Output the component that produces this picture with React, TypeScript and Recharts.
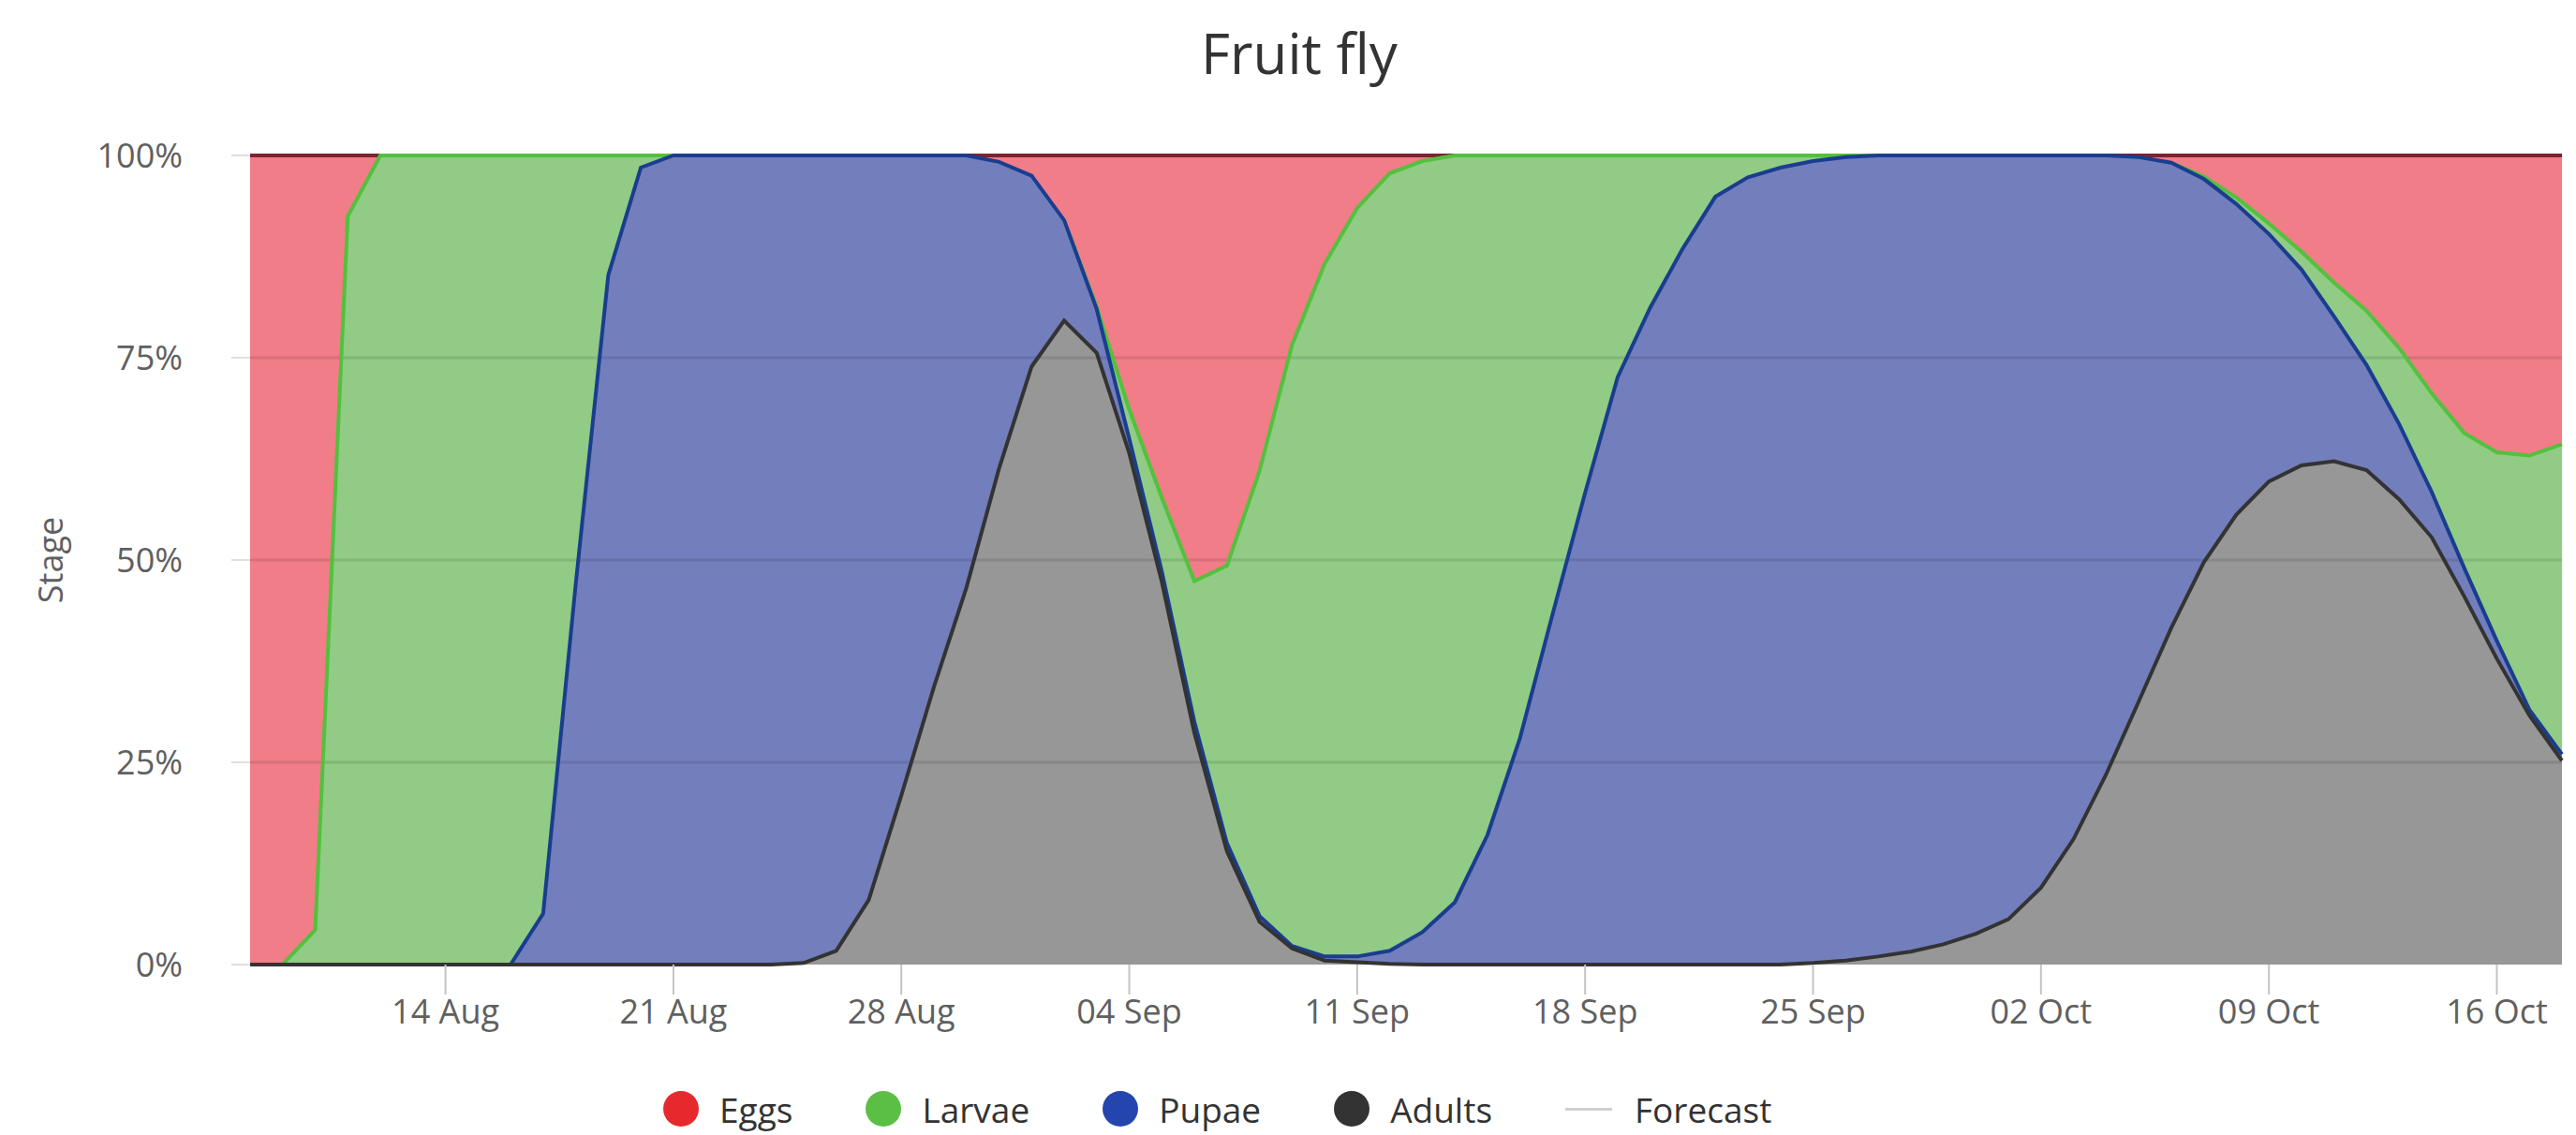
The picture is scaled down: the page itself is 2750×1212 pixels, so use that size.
import React from 'react';
import { ComposedChart, Area, Line, XAxis, YAxis, ReferenceLine } from 'recharts';

// daily shares (%) from 08 Aug (day 0) to 18 Oct (day 71)
const eggs = [
  100, 100, 95.7, 7.5, 0, 0, 0, 0, 0, 0, 0, 0, 0, 0, 0, 0, 0, 0, 0, 0, 0, 0, 0,
  0.8, 2.5, 8, 18.7, 31.4, 42.3, 52.6, 50.7, 39, 23.4, 13.4, 6.5, 2.2, 0.7,
  0, 0, 0, 0, 0, 0, 0, 0, 0, 0, 0, 0, 0, 0, 0, 0, 0, 0, 0, 0, 0,
  0.2, 0.9, 2.6, 5.2, 8.4, 11.9, 15.7, 19.2, 23.8, 29.4, 34.3, 36.7, 37.1, 35.7,
];

const larvae = [
  0, 0, 4.3, 92.5, 100, 100, 100, 100, 100, 93.7, 53, 14.8, 1.5,
  0, 0, 0, 0, 0, 0, 0, 0, 0,
  0, 0, 0, 0, 0.3, 3.6, 9.1, 17.4, 34.3, 55, 74.3, 85.6, 92.5, 96.1, 95.3,
  92.3, 84, 72, 56.7, 41.7, 27.4, 18.8, 11.5, 5.1, 2.7, 1.5, 0.7, 0.2,
  0, 0, 0, 0, 0, 0, 0, 0,
  0, 0, 0.3, 0.8, 1.3, 2.2, 4.2, 6.7, 9.4, 12.2, 16.7, 23.3, 31.4, 38.3,
];

const pupae = [
  0, 0, 0, 0, 0, 0, 0, 0, 0,
  6.3, 47, 85.2, 98.5, 100, 100, 100, 100, 99.8, 98.3, 92, 79.1, 65.7, 53.4,
  37.9, 23.6, 12.4, 5.4, 1.8, 1.3, 1.4, 1, 0.7, 0.3, 0.5, 0.7, 1.6, 4, 7.7,
  16, 28, 43.3, 58.3, 72.6, 81.2, 88.5, 94.9, 97.3, 98.5, 99.1, 99.3, 99,
  98.4, 97.5, 96.2, 94.4, 90.5, 84.5, 76.5, 67.3, 57.5, 47.4, 38.4, 30.6,
  24.2, 17.9, 13, 9.3, 5.6, 3.5, 2.2, 0.7, 0.8,
];

const adults = [
  0, 0, 0, 0, 0, 0, 0, 0, 0, 0, 0, 0, 0, 0, 0, 0, 0,
  0.2, 1.7, 8, 20.9, 34.3, 46.6, 61.3, 73.9, 79.6, 75.6, 63.2, 47.3, 28.6,
  14, 5.3, 2, 0.5, 0.3, 0.1,
  0, 0, 0, 0, 0, 0, 0, 0, 0, 0, 0, 0,
  0.2, 0.5, 1, 1.6, 2.5, 3.8, 5.6, 9.5, 15.5, 23.5, 32.5, 41.6, 49.7, 55.6,
  59.7, 61.7, 62.2, 61.1, 57.5, 52.8, 45.5, 37.8, 30.8, 25.2,
];

const tickDays = [6, 13, 20, 27, 34, 41, 48, 55, 62, 69];
const tickLabels = ['14 Aug', '21 Aug', '28 Aug', '04 Sep', '11 Sep', '18 Sep', '25 Sep', '02 Oct', '09 Oct', '16 Oct'];
const yTicks = [0, 25, 50, 75, 100];
const gridLevels = [25, 50, 75];

const legendItems = [
  { name: 'Eggs', color: '#e6292c', type: 'circle' },
  { name: 'Larvae', color: '#5cbf45', type: 'circle' },
  { name: 'Pupae', color: '#2445ad', type: 'circle' },
  { name: 'Adults', color: '#333333', type: 'circle' },
  { name: 'Forecast', color: '#d0d0d0', type: 'line' },
];

const data = adults.map((_, day) => ({
  day,
  Eggs: eggs[day],
  Larvae: larvae[day],
  Pupae: pupae[day],
  Adults: adults[day],
}));

type Pt = { day: number; top: number };

// top edge of a band, cut into pieces: an edge only shows where the band
// has some thickness nearby, elsewhere the stage below shows its own edge
const edgePieces = (values: number[], below: number[][], always = false) => {
  const pieces: Pt[][] = [];
  let cur: Pt[] = [];
  values.forEach((v, i) => {
    const near = [values[i - 1] ?? 0, v, values[i + 1] ?? 0];
    if (always || near.some(n => n > 0)) {
      const top = below.reduce((s, arr) => s + arr[i], 0) + v;
      cur.push({ day: i, top });
    } else if (cur.length) {
      pieces.push(cur);
      cur = [];
    }
  });
  if (cur.length) pieces.push(cur);
  return pieces;
};

// later entries paint over earlier ones: the lower stages end up on top
const edges = [
  { key: 'Eggs', color: '#7d2330', pieces: edgePieces(eggs, [adults, pupae, larvae]) },
  { key: 'Larvae', color: '#52c13d', pieces: edgePieces(larvae, [adults, pupae]) },
  { key: 'Pupae', color: '#1a3d8f', pieces: edgePieces(pupae, [adults]) },
  { key: 'Adults', color: '#333333', pieces: edgePieces(adults, [], true) },
];

const FONT = '"Open Sans", sans-serif';

export default function App() {
  return (
    <div style={{ position: 'absolute', left: 0, top: 0, width: 2750, height: 1212, background: '#fff', fontFamily: FONT }}>
      <div style={{ position: 'absolute', left: 0, top: 26, width: 2774, textAlign: 'center', fontSize: 60, lineHeight: '60px', color: '#333' }}>
        Fruit fly
      </div>

      <div style={{ position: 'absolute', left: 0, top: 0 }}>
        <ComposedChart
          width={2750}
          height={1212}
          data={data}
          margin={{ top: 166, right: 15, bottom: 122, left: 0 }}
        >
          <XAxis
            dataKey="day"
            type="number"
            domain={[0, 71]}
            ticks={tickDays}
            tickFormatter={(d: number) => tickLabels[tickDays.indexOf(d)]}
            height={60}
            tickSize={32}
            tickMargin={5}
            tickLine={{ stroke: '#c4c4c4', strokeWidth: 2 }}
            axisLine={false}
            tick={{ fill: '#606060', fontSize: 36, fontFamily: FONT }}
          />
          <YAxis
            domain={[0, 100]}
            ticks={yTicks}
            tickFormatter={(v: number) => `${v}%`}
            width={267}
            tickSize={20}
            tickMargin={52}
            axisLine={false}
            tickLine={{ stroke: '#e0e0e0', strokeWidth: 2 }}
            tick={{ fill: '#606060', fontSize: 36, fontFamily: FONT }}
            label={{
              value: 'Stage',
              angle: -90,
              position: 'insideLeft',
              offset: 54,
              style: { textAnchor: 'middle', fill: '#606060', fontSize: 36, fontFamily: FONT },
            }}
          />
          {/* stack from the bottom: adults, pupae, larvae, eggs */}
          <Area type="linear" dataKey="Adults" stackId="1" stroke="none" fill="#979797" fillOpacity={1} dot={false} activeDot={false} isAnimationActive={false} />
          <Area type="linear" dataKey="Pupae" stackId="1" stroke="none" fill="#737ebd" fillOpacity={1} dot={false} activeDot={false} isAnimationActive={false} />
          <Area type="linear" dataKey="Larvae" stackId="1" stroke="none" fill="#91cb85" fillOpacity={1} dot={false} activeDot={false} isAnimationActive={false} />
          <Area type="linear" dataKey="Eggs" stackId="1" stroke="none" fill="#f07d87" fillOpacity={1} dot={false} activeDot={false} isAnimationActive={false} />
          {gridLevels.map(level => (
            <ReferenceLine key={level} y={level} stroke="rgba(0,0,0,0.1)" strokeWidth={3} />
          ))}
          {edges.map(e =>
            e.pieces.map((piece, i) => (
              <Line
                key={`${e.key}-${i}`}
                data={piece}
                dataKey="top"
                type="linear"
                stroke={e.color}
                strokeWidth={4}
                dot={false}
                activeDot={false}
                legendType="none"
                isAnimationActive={false}
              />
            ))
          )}
        </ComposedChart>
      </div>

      <div style={{ position: 'absolute', left: 708, top: 1164, height: 40, display: 'flex', alignItems: 'center' }}>
        {legendItems.map(item => (
          <div key={item.name} style={{ display: 'flex', alignItems: 'center', marginRight: 78 }}>
            {item.type === 'circle' ? (
              <span style={{ width: 38, height: 38, borderRadius: '50%', background: item.color, marginRight: 22 }} />
            ) : (
              <span style={{ width: 50, height: 3, background: item.color, marginRight: 24 }} />
            )}
            <span style={{ fontSize: 37, color: '#333' }}>{item.name}</span>
          </div>
        ))}
      </div>
    </div>
  );
}
